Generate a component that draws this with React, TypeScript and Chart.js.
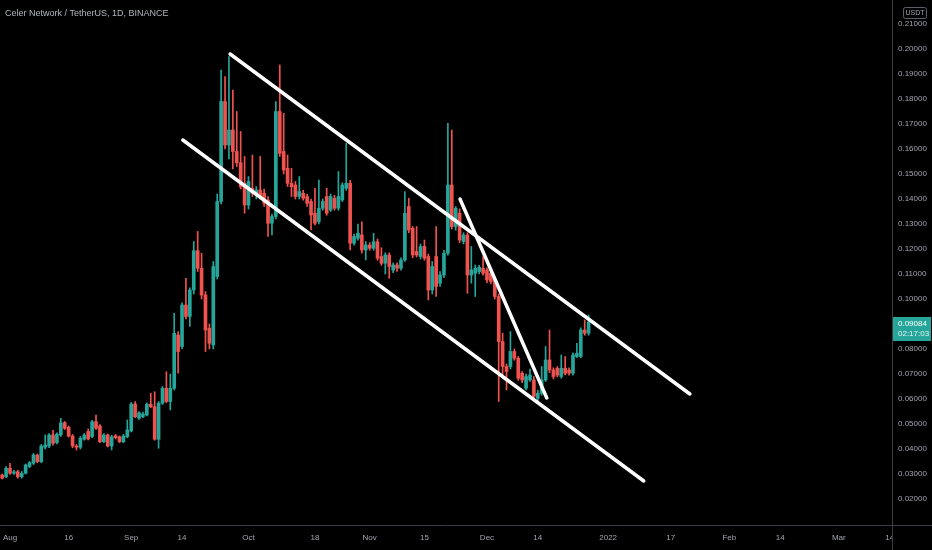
import React, { useEffect, useRef } from "react";
import { Chart, registerables } from "chart.js";

Chart.register(...registerables);

// Day offsets counted from Aug 1, 2021 (day 0). First candle: Jul 30, 2021.
const firstDay = -2;

const opens = [
  0.0296, 0.0289, 0.0323, 0.0303, 0.0309, 0.0289, 0.0303, 0.0330, 0.0343, 0.0376,
  0.0349, 0.0407, 0.0412, 0.0456, 0.0425, 0.0456, 0.0505, 0.0487, 0.0452, 0.0412,
  0.0407, 0.0439, 0.0470, 0.0450, 0.0509, 0.0492, 0.0429, 0.0456, 0.0412, 0.0453,
  0.0449, 0.0429, 0.0449, 0.0472, 0.0580, 0.0523, 0.0529, 0.0536, 0.0579, 0.0569,
  0.0439, 0.0583, 0.0643, 0.0590, 0.0643, 0.0856, 0.0810, 0.0976, 0.0930, 0.1036,
  0.1193, 0.1123, 0.1016, 0.0883, 0.0816, 0.1090, 0.1390, 0.1790, 0.1616, 0.1676,
  0.1590, 0.1545, 0.1463, 0.1376, 0.1443, 0.1416, 0.1436, 0.1423, 0.1396, 0.1303,
  0.1330, 0.1750, 0.1590, 0.1523, 0.1463, 0.1456, 0.1410, 0.1423, 0.1410, 0.1390,
  0.1343, 0.1310, 0.1363, 0.1410, 0.1356, 0.1403, 0.1363, 0.1396, 0.1443, 0.1463,
  0.1223, 0.1243, 0.1256, 0.1196, 0.1216, 0.1203, 0.1229, 0.1170, 0.1143, 0.1176,
  0.1116, 0.1136, 0.1123, 0.1156, 0.1370, 0.1283, 0.1190, 0.1170, 0.1210, 0.1170,
  0.1036, 0.1170, 0.1063, 0.1096, 0.1183, 0.1456, 0.1290, 0.1343, 0.1230, 0.1256,
  0.1096, 0.1103, 0.1110, 0.1123, 0.1116, 0.1103, 0.1076, 0.1010, 0.0830, 0.0730,
  0.0730, 0.0790, 0.0763, 0.0703, 0.0643, 0.0676, 0.0676, 0.0603, 0.0623, 0.0676,
  0.0756, 0.0716, 0.0723, 0.0690, 0.0723, 0.0716, 0.0703, 0.0770, 0.0770, 0.0876,
  0.0863,
];

const highs = [
  0.0300, 0.0330, 0.0343, 0.0315, 0.0315, 0.0310, 0.0340, 0.0350, 0.0382, 0.0380,
  0.0418, 0.0456, 0.0462, 0.0475, 0.0465, 0.0523, 0.0510, 0.0492, 0.0458, 0.0418,
  0.0450, 0.0462, 0.0480, 0.0515, 0.0536, 0.0498, 0.0462, 0.0460, 0.0455, 0.0458,
  0.0452, 0.0458, 0.0516, 0.0586, 0.0590, 0.0550, 0.0548, 0.0585, 0.0623, 0.0629,
  0.0590, 0.0650, 0.0709, 0.0700, 0.0943, 0.0870, 0.0985, 0.1083, 0.1045, 0.1230,
  0.1270, 0.1183, 0.1030, 0.0900, 0.1150, 0.1420, 0.1916, 0.1890, 0.1970, 0.1836,
  0.1750, 0.1670, 0.1570, 0.1490, 0.1576, 0.1450, 0.1570, 0.1440, 0.1410, 0.1340,
  0.1790, 0.1936, 0.1743, 0.1576, 0.1523, 0.1470, 0.1490, 0.1435, 0.1420, 0.1400,
  0.1443, 0.1476, 0.1400, 0.1443, 0.1420, 0.1415, 0.1510, 0.1465, 0.1623, 0.1475,
  0.1260, 0.1300, 0.1309, 0.1230, 0.1225, 0.1263, 0.1240, 0.1205, 0.1185, 0.1185,
  0.1145, 0.1145, 0.1165, 0.1430, 0.1403, 0.1290, 0.1290, 0.1220, 0.1236, 0.1180,
  0.1150, 0.1290, 0.1110, 0.1195, 0.1703, 0.1676, 0.1370, 0.1360, 0.1265, 0.1265,
  0.1210, 0.1136, 0.1135, 0.1170, 0.1125, 0.1110, 0.1085, 0.1020, 0.0863, 0.0740,
  0.0870, 0.0800, 0.0770, 0.0710, 0.0700, 0.0720, 0.0690, 0.0635, 0.0730, 0.0810,
  0.0876, 0.0725, 0.0730, 0.0776, 0.0770, 0.0725, 0.0785, 0.0823, 0.0885, 0.0916,
  0.0936,
];

const lows = [
  0.0280, 0.0285, 0.0298, 0.0298, 0.0283, 0.0283, 0.0300, 0.0325, 0.0338, 0.0345,
  0.0345, 0.0400, 0.0405, 0.0415, 0.0420, 0.0450, 0.0478, 0.0448, 0.0405, 0.0396,
  0.0400, 0.0435, 0.0436, 0.0445, 0.0478, 0.0425, 0.0425, 0.0408, 0.0396, 0.0440,
  0.0425, 0.0425, 0.0445, 0.0468, 0.0525, 0.0518, 0.0525, 0.0532, 0.0565, 0.0435,
  0.0403, 0.0578, 0.0585, 0.0556, 0.0636, 0.0703, 0.0800, 0.0920, 0.0890, 0.1020,
  0.1110, 0.1000, 0.0790, 0.0800, 0.0800, 0.1080, 0.1380, 0.1600, 0.1560, 0.1520,
  0.1530, 0.1440, 0.1343, 0.1360, 0.1410, 0.1400, 0.1400, 0.1370, 0.1250, 0.1256,
  0.1320, 0.1570, 0.1500, 0.1450, 0.1410, 0.1400, 0.1400, 0.1395, 0.1370, 0.1276,
  0.1296, 0.1300, 0.1355, 0.1335, 0.1350, 0.1355, 0.1355, 0.1390, 0.1435, 0.1196,
  0.1215, 0.1235, 0.1183, 0.1156, 0.1195, 0.1195, 0.1155, 0.1135, 0.1100, 0.1083,
  0.1105, 0.1110, 0.1115, 0.1150, 0.1265, 0.1165, 0.1168, 0.1160, 0.1155, 0.0996,
  0.1020, 0.1010, 0.1050, 0.1085, 0.1175, 0.1280, 0.1275, 0.1225, 0.1220, 0.1023,
  0.1063, 0.1010, 0.1100, 0.1095, 0.1065, 0.1060, 0.1000, 0.0590, 0.0690, 0.0636,
  0.0720, 0.0755, 0.0675, 0.0665, 0.0636, 0.0670, 0.0596, 0.0590, 0.0615, 0.0670,
  0.0705, 0.0680, 0.0688, 0.0683, 0.0696, 0.0695, 0.0695, 0.0765, 0.0765, 0.0855,
  0.0855,
];

const closes = [
  0.0283, 0.0323, 0.0303, 0.0309, 0.0289, 0.0303, 0.0336, 0.0345, 0.0376, 0.0349,
  0.0412, 0.0416, 0.0456, 0.0423, 0.0459, 0.0505, 0.0483, 0.0452, 0.0412, 0.0407,
  0.0443, 0.0456, 0.0440, 0.0509, 0.0483, 0.0429, 0.0456, 0.0412, 0.0449, 0.0445,
  0.0429, 0.0452, 0.0476, 0.0580, 0.0529, 0.0545, 0.0540, 0.0579, 0.0569, 0.0439,
  0.0583, 0.0643, 0.0590, 0.0643, 0.0863, 0.0790, 0.0976, 0.0930, 0.1036, 0.1193,
  0.1123, 0.1016, 0.0876, 0.0823, 0.1130, 0.1390, 0.1790, 0.1616, 0.1676, 0.1590,
  0.1545, 0.1449, 0.1376, 0.1470, 0.1423, 0.1436, 0.1409, 0.1383, 0.1303, 0.1330,
  0.1750, 0.1583, 0.1516, 0.1463, 0.1449, 0.1410, 0.1430, 0.1403, 0.1383, 0.1336,
  0.1303, 0.1363, 0.1390, 0.1343, 0.1410, 0.1363, 0.1410, 0.1456, 0.1463, 0.1223,
  0.1250, 0.1263, 0.1196, 0.1216, 0.1203, 0.1229, 0.1163, 0.1143, 0.1176, 0.1130,
  0.1136, 0.1123, 0.1156, 0.1343, 0.1276, 0.1176, 0.1176, 0.1210, 0.1163, 0.1036,
  0.1130, 0.1050, 0.1096, 0.1183, 0.1456, 0.1290, 0.1363, 0.1236, 0.1256, 0.1096,
  0.1116, 0.1123, 0.1127, 0.1103, 0.1076, 0.1070, 0.1010, 0.0830, 0.0730, 0.0710,
  0.0790, 0.0763, 0.0683, 0.0676, 0.0690, 0.0696, 0.0610, 0.0623, 0.0676, 0.0756,
  0.0716, 0.0690, 0.0696, 0.0723, 0.0703, 0.0703, 0.0776, 0.0783, 0.0876, 0.0863,
  0.0908,
];

const lastPriceText = "0.09084";
const countdownText = "02:17:03";
const titleText = "Celer Network / TetherUS, 1D, BINANCE";
const currencyText = "USDT";

const xTickDays = [0, 15, 31, 44, 61, 78, 92, 106, 122, 135, 153, 169, 184, 197, 212, 225];
const xTickLabels = ["Aug", "16", "Sep", "14", "Oct", "18", "Nov", "15", "Dec", "14", "2022", "17", "Feb", "14", "Mar", "14"];
const yTickValues = [0.02, 0.03, 0.04, 0.05, 0.06, 0.07, 0.08, 0.09, 0.1, 0.11, 0.12, 0.13, 0.14, 0.15, 0.16, 0.17, 0.18, 0.19, 0.2, 0.21];

// Trend lines drawn on the chart (day offset, price)
const upperChannel = [{ x: 56.3, y: 0.198 }, { x: 173.9, y: 0.062 }];
const lowerChannel = [{ x: 44.2, y: 0.1636 }, { x: 162.1, y: 0.0272 }];
const steepLine = [{ x: 115.1, y: 0.14 }, { x: 137.3, y: 0.0604 }];

const UP = "#26a69a";
const DOWN = "#ef5350";
const AXIS = "#3a3d45";
const TEXT = "#a3a6af";
const FONT = "'Liberation Sans Narrow', 'Liberation Sans', Arial, sans-serif";

export default function App() {
  const ref = useRef<HTMLCanvasElement | null>(null);

  useEffect(() => {
    document.body.style.margin = "0";
    document.body.style.background = "#000";
    const canvas = ref.current;
    if (!canvas) return;

    const days = opens.map((_, i) => firstDay + i);
    const colors = opens.map((o, i) => (closes[i] >= o ? UP : DOWN));
    const wickData = days.map((d, i) => ({ x: d, y: [lows[i], highs[i]] }));
    const bodyData = days.map((d, i) => ({ x: d, y: [opens[i], closes[i]] }));

    const overlay = {
      id: "overlay",
      beforeDraw(chart: any) {
        const { ctx, width, height } = chart;
        ctx.save();
        ctx.fillStyle = "#000";
        ctx.fillRect(0, 0, width, height);
        ctx.restore();
      },
      afterDraw(chart: any) {
        const { ctx, width, height, chartArea, scales } = chart;
        ctx.save();
        // hide x labels beyond the price pane
        ctx.fillStyle = "#000";
        ctx.fillRect(chartArea.right + 1, chartArea.bottom + 1, width - chartArea.right, height - chartArea.bottom);
        ctx.strokeStyle = AXIS;
        ctx.lineWidth = 1;
        ctx.beginPath();
        ctx.moveTo(chartArea.right, chartArea.bottom + 0.5);
        ctx.lineTo(width, chartArea.bottom + 0.5);
        ctx.moveTo(chartArea.right + 0.5, chartArea.bottom);
        ctx.lineTo(chartArea.right + 0.5, height);
        ctx.stroke();

        // title
        ctx.fillStyle = "#b2b5be";
        ctx.font = `9px ${FONT}`;
        ctx.textBaseline = "middle";
        ctx.textAlign = "left";
        ctx.fillText(titleText, 5, 14);

        // currency box
        const bx = chartArea.right + 11;
        const by = 7;
        const bw = 23;
        const bh = 11;
        ctx.fillStyle = "#000";
        ctx.beginPath();
        ctx.roundRect(bx + 0.5, by + 0.5, bw, bh, 2);
        ctx.fill();
        ctx.strokeStyle = "#5d606b";
        ctx.stroke();
        ctx.fillStyle = TEXT;
        ctx.font = `7px ${FONT}`;
        ctx.textAlign = "center";
        ctx.fillText(currencyText, bx + bw / 2 + 0.5, by + bh / 2 + 1);

        // last price label
        const py = scales.y.getPixelForValue(closes[closes.length - 1]);
        ctx.fillStyle = UP;
        ctx.fillRect(chartArea.right + 1, py - 5, 38, 24);
        ctx.fillStyle = "#ffffff";
        ctx.font = `8px ${FONT}`;
        ctx.textAlign = "left";
        ctx.fillText(lastPriceText, chartArea.right + 6, py + 2);
        ctx.fillStyle = "#e6f4f2";
        ctx.fillText(countdownText, chartArea.right + 6, py + 12);
        ctx.restore();
      },
    };

    const lineStyle = {
      type: "line" as const,
      borderColor: "#ffffff",
      borderWidth: 3.5,
      borderCapStyle: "round" as const,
      pointRadius: 0,
      fill: false,
      order: 1,
    };

    const chart = new Chart(canvas, {
      type: "bar",
      data: {
        datasets: [
          { ...lineStyle, data: upperChannel } as any,
          { ...lineStyle, data: lowerChannel } as any,
          { ...lineStyle, data: steepLine } as any,
          {
            type: "bar",
            data: bodyData as any,
            backgroundColor: colors,
            barThickness: 3,
            grouped: false,
            minBarLength: 1,
            borderWidth: 0,
            order: 2,
          } as any,
          {
            type: "bar",
            data: wickData as any,
            backgroundColor: colors,
            barThickness: 1,
            grouped: false,
            borderWidth: 0,
            order: 3,
          } as any,
        ],
      },
      options: {
        animation: false,
        responsive: false,
        devicePixelRatio: 1,
        layout: { padding: 0, autoPadding: false },
        events: [],
        plugins: {
          legend: { display: false },
          tooltip: { enabled: false },
        },
        scales: {
          x: {
            type: "linear",
            position: "bottom",
            offset: false,
            min: -2.56,
            max: 225.6,
            grid: { display: true, offset: false, drawOnChartArea: false, drawTicks: false },
            border: { display: true, color: AXIS, width: 1 },
            ticks: {
              color: TEXT,
              font: { family: FONT, size: 8 },
              padding: 8,
              maxRotation: 0,
              autoSkip: false,
              callback: (_v: any, i: number) => xTickLabels[i],
            },
            afterBuildTicks: (axis: any) => {
              axis.ticks = xTickDays.map((value) => ({ value }));
            },
            afterFit: (axis: any) => {
              axis.height = 25;
              axis.paddingLeft = 0;
              axis.paddingRight = 0;
            },
          },
          y: {
            type: "linear",
            position: "right",
            min: 0.0096,
            max: 0.2196,
            grid: { display: true, drawOnChartArea: false, drawTicks: false },
            border: { display: true, color: AXIS, width: 1 },
            ticks: {
              color: TEXT,
              font: { family: FONT, size: 8 },
              padding: 6,
              callback: (v: any) => Number(v).toFixed(5),
            },
            afterBuildTicks: (axis: any) => {
              axis.ticks = yTickValues.map((value) => ({ value }));
            },
            afterFit: (axis: any) => {
              axis.width = 40;
              axis.paddingTop = 0;
              axis.paddingBottom = 0;
            },
          },
        },
      } as any,
      plugins: [overlay],
    });

    return () => chart.destroy();
  }, []);

  return (
    <div style={{ position: "fixed", left: 0, top: 0, width: 932, height: 550, background: "#000" }}>
      <canvas ref={ref} width={932} height={550} style={{ display: "block" }} />
    </div>
  );
}
